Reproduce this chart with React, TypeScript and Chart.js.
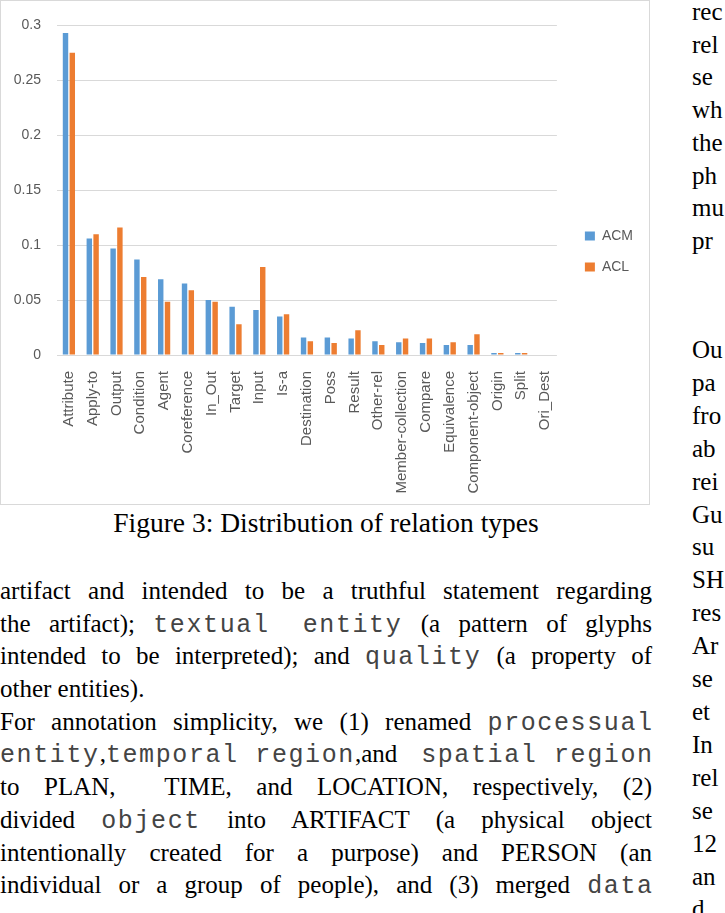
import React, { useEffect, useRef } from 'react';
import { Chart, registerables } from 'chart.js';

Chart.register(...registerables);

const categories = [
  'Attribute', 'Apply-to', 'Output', 'Condition', 'Agent', 'Coreference', 'In_Out',
  'Target', 'Input', 'Is-a', 'Destination', 'Poss', 'Result', 'Other-rel',
  'Member-collection', 'Compare', 'Equivalence', 'Component-object', 'Origin', 'Split', 'Ori_Dest',
];
const acmValues = [
  0.293, 0.106, 0.097, 0.087, 0.069, 0.065, 0.050, 0.044, 0.041, 0.035, 0.016,
  0.016, 0.015, 0.0125, 0.0117, 0.011, 0.009, 0.009, 0.0018, 0.0018, 0,
];
const aclValues = [
  0.275, 0.110, 0.116, 0.071, 0.0485, 0.059, 0.0485, 0.028, 0.080, 0.037, 0.0125,
  0.011, 0.0225, 0.009, 0.015, 0.015, 0.0117, 0.019, 0.0018, 0.0018, 0,
];
const seriesNames = ['ACM', 'ACL'];
const yTickLabels = ['0', '0.05', '0.1', '0.15', '0.2', '0.25', '0.3'];

const captionText = 'Figure 3: Distribution of relation types';
const rightTop = ['rec', 'rel', 'se', 'wh', 'the', 'ph', 'mu', 'pr'];
const rightBottom = ['Ou', 'pa', 'fro', 'ab', 'rei', 'Gu', 'su', 'SH', 'res', 'Ar', 'se', 'et', 'In', 'rel', 'se', '12', 'an', 'd'];

const TICK_FONT = "'Liberation Sans', Arial, sans-serif";
const SERIF = "'Liberation Serif', 'Times New Roman', serif";
const MONO = "'Liberation Mono', 'Courier New', monospace";
const GRAY = '#595959';

const legendShift = {
  id: 'legendShift',
  afterLayout(chart: any) {
    const l = chart.legend;
    if (!l) return;
    const dx = 11;
    const dy = -11;
    l.left += dx;
    l.right += dx;
    l.top += dy;
    l.bottom += dy;
  },
};

function BarChart() {
  const ref = useRef<HTMLCanvasElement | null>(null);
  useEffect(() => {
    if (!ref.current) return;
    const chart = new Chart(ref.current, {
      type: 'bar',
      data: {
        labels: categories,
        datasets: [
          { label: seriesNames[0], data: acmValues, backgroundColor: '#5B9BD5', borderWidth: 0, categoryPercentage: 0.57, barPercentage: 0.8 },
          { label: seriesNames[1], data: aclValues, backgroundColor: '#ED7D31', borderWidth: 0, categoryPercentage: 0.57, barPercentage: 0.8 },
        ],
      },
      options: {
        animation: false,
        responsive: false,
        maintainAspectRatio: false,
        layout: { padding: { top: 20, right: 17, bottom: 0, left: 0 } },
        plugins: {
          legend: {
            position: 'right',
            labels: {
              boxWidth: 10,
              boxHeight: 9,
              padding: 17,
              color: GRAY,
              font: { size: 14, family: TICK_FONT },
            },
          },
          tooltip: { enabled: false },
        },
        scales: {
          x: {
            grid: { display: false },
            border: { display: false },
            ticks: {
              autoSkip: false,
              minRotation: 90,
              maxRotation: 90,
              padding: 8,
              color: GRAY,
              font: { size: 15, family: TICK_FONT },
            },
            afterFit: (s: any) => { s.height = 149; },
          },
          y: {
            min: 0,
            max: 0.3,
            ticks: {
              stepSize: 0.05,
              padding: 16,
              color: GRAY,
              font: { size: 14, family: TICK_FONT },
              callback: (v: any) => yTickLabels[Math.round(Number(v) / 0.05)] ?? '',
            },
            grid: { color: '#d9d9d9', lineWidth: 1, drawTicks: false },
            border: { display: false },
            afterFit: (s: any) => { s.width = 56; },
          },
        },
      },
      plugins: [legendShift],
    } as any);
    return () => chart.destroy();
  }, []);
  return <canvas ref={ref} width={648} height={503} style={{ display: 'block' }} />;
}

const MONO_SPACING = 1.6;
const mono: React.CSSProperties = {
  fontFamily: MONO, fontSize: 25, letterSpacing: `${MONO_SPACING}px`, display: 'inline-block',
  whiteSpace: 'pre', color: '#444',
};
const M = ({ children, last }: { children: string; last?: boolean }) => (
  <span style={last ? { ...mono, marginRight: `-${MONO_SPACING}px` } : mono}>{children}</span>
);

const LH = 32.7;
const lineJ: React.CSSProperties = { textAlign: 'justify', textAlignLast: 'justify', whiteSpace: 'nowrap' as any, height: LH };
const lineL: React.CSSProperties = { textAlign: 'left', whiteSpace: 'nowrap' as any, height: LH };

export default function App() {
  return (
    <div style={{ position: 'absolute', left: 0, top: 0, width: 725, height: 913, overflow: 'hidden', background: '#fff' }}>
      <div style={{ position: 'absolute', left: 0, top: 0, width: 650, height: 505, border: '1px solid #d9d9d9', boxSizing: 'border-box', background: '#fff' }}>
        <BarChart />
      </div>
      <div style={{ position: 'absolute', left: 0, top: 509, width: 652, textAlign: 'center', fontFamily: SERIF, fontSize: 27.5, lineHeight: '27px', color: '#000' }}>
        {captionText}
      </div>
      <div style={{ position: 'absolute', left: 0, top: 575, width: 652, fontFamily: SERIF, fontSize: 25, lineHeight: `${LH}px`, color: '#000' }}>
        <div style={lineJ}>artifact and intended to be a truthful statement regarding</div>
        <div style={lineJ}>the artifact); <M>{'textual  entity'}</M> (a pattern of glyphs</div>
        <div style={lineJ}>intended to be interpreted); and <M>quality</M> (a property of</div>
        <div style={lineL}>other entities).</div>
        <div style={lineJ}>For annotation simplicity, we (1) renamed <M last>processual</M></div>
        <div style={lineJ}><M>entity</M>,<M>temporal region</M>,and <M last>spatial region</M></div>
        <div style={lineJ}>to PLAN,&nbsp; TIME, and LOCATION, respectively, (2)</div>
        <div style={lineJ}>divided <M>object</M> into ARTIFACT (a physical object</div>
        <div style={lineJ}>intentionally created for a purpose) and PERSON (an</div>
        <div style={lineJ}>individual or a group of people), and (3) merged <M last>data</M></div>
      </div>
      <div style={{ position: 'absolute', left: 692, top: -4, fontFamily: SERIF, fontSize: 25, lineHeight: '32.7px', whiteSpace: 'nowrap', color: '#000' }}>
        {rightTop.map((t, i) => <div key={i}>{t}</div>)}
      </div>
      <div style={{ position: 'absolute', left: 692, top: 334, fontFamily: SERIF, fontSize: 25, lineHeight: '32.9px', whiteSpace: 'nowrap', color: '#000' }}>
        {rightBottom.map((t, i) => <div key={i}>{t}</div>)}
      </div>
    </div>
  );
}
